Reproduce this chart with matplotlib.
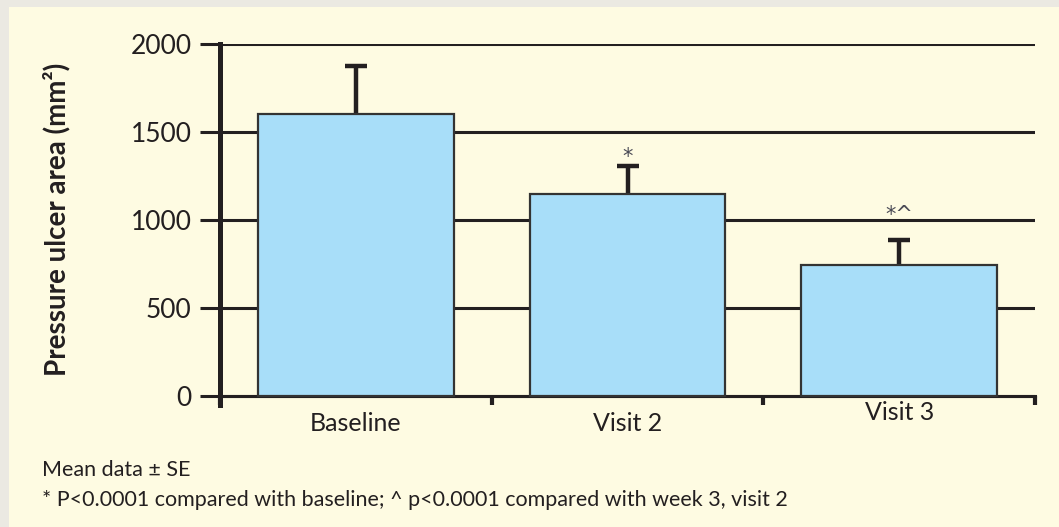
import matplotlib
matplotlib.use("Agg")
import matplotlib.pyplot as plt
from matplotlib.patches import Rectangle

categories = ["Baseline", "Visit 2", "Visit 3"]
means = [1600, 1150, 745]
se = [275, 160, 140]
annotations = ["", "*", "*^"]
yticks = [0, 500, 1000, 1500, 2000]

# style-only offsets (points)
annot_offsets = [0, -1, 11]
label_offsets = [0, 0, 8]

plt.rcParams['font.family'] = ['Lato', 'DejaVu Sans']
TXT = '#231f20'
LINE = '#231f20'

fig = plt.figure(figsize=(10.59, 5.27), dpi=100)
fig.patch.set_facecolor('#ebe9e2')
fig.patches.append(Rectangle((9/1059, 0), 1, 1 - 7/527, transform=fig.transFigure,
                             facecolor='#fefbe2', edgecolor='none', zorder=-10))

ax = fig.add_axes([220/1059, 1 - 405/527, (1035 - 220)/1059, (405 - 44)/527])
ax.set_facecolor('none')

x = list(range(len(categories)))
ax.bar(x, means, width=0.72, color='#a8def9', edgecolor='#333333', linewidth=1.6, zorder=3)
ax.errorbar(x, means, yerr=se, fmt='none', ecolor=LINE,
            elinewidth=3.2, capsize=8, capthick=3.2, zorder=2)

for xi, m, s, a, off in zip(x, means, se, annotations, annot_offsets):
    if a:
        ax.annotate(a, (xi, m + s), xytext=(0, off), textcoords='offset points',
                    ha='center', va='bottom', fontsize=15, color='#4a4a55',
                    family='DejaVu Sans')

ax.set_xlim(-0.5, 2.5)
ax.set_ylim(-50, 2000)
ax.set_yticks(yticks)
ax.set_yticklabels([str(v) for v in yticks])
ax.yaxis.grid(True, color=LINE, linewidth=2.2, zorder=0)
ax.set_axisbelow(True)
ax.tick_params(axis='y', length=14.4, width=2.2, color=LINE, pad=6,
               labelsize=19, labelcolor=TXT)

ax.set_xticks(x)
ax.set_xticklabels([])
ax.set_xticks([-0.5, 0.5, 1.5, 2.5], minor=True)
ax.tick_params(axis='x', which='major', length=0)
ax.tick_params(axis='x', which='minor', length=6.5, width=3, color=LINE, direction='out')

for xi, lab, off in zip(x, categories, label_offsets):
    ax.annotate(lab, (xi, 0), xycoords=('data', 'axes fraction'),
                xytext=(0, -5 + off), textcoords='offset points',
                ha='center', va='top', fontsize=18, color=TXT)

for sp in ['top', 'right']:
    ax.spines[sp].set_visible(False)
ax.spines['left'].set_linewidth(3.6)
ax.spines['left'].set_color(LINE)
ax.spines['bottom'].set_position(('data', 0))
ax.spines['bottom'].set_linewidth(2.2)
ax.spines['bottom'].set_color(LINE)

fig.text(57/1059, 1 - 219/527, "Pressure ulcer area (mm\u00b2)", rotation=90,
         ha='center', va='center', fontsize=20, fontweight='bold', color=TXT)

fig.text(42/1059, 1 - 470/527, "Mean data \u00b1 SE", ha='left', va='center',
         fontsize=15.5, color=TXT)
fig.text(42/1059, 1 - 500/527,
         "* P<0.0001 compared with baseline; ^ p<0.0001 compared with week 3, visit 2",
         ha='left', va='center', fontsize=15.5, color=TXT)

fig.savefig("out.png", dpi=100, facecolor=fig.get_facecolor())
